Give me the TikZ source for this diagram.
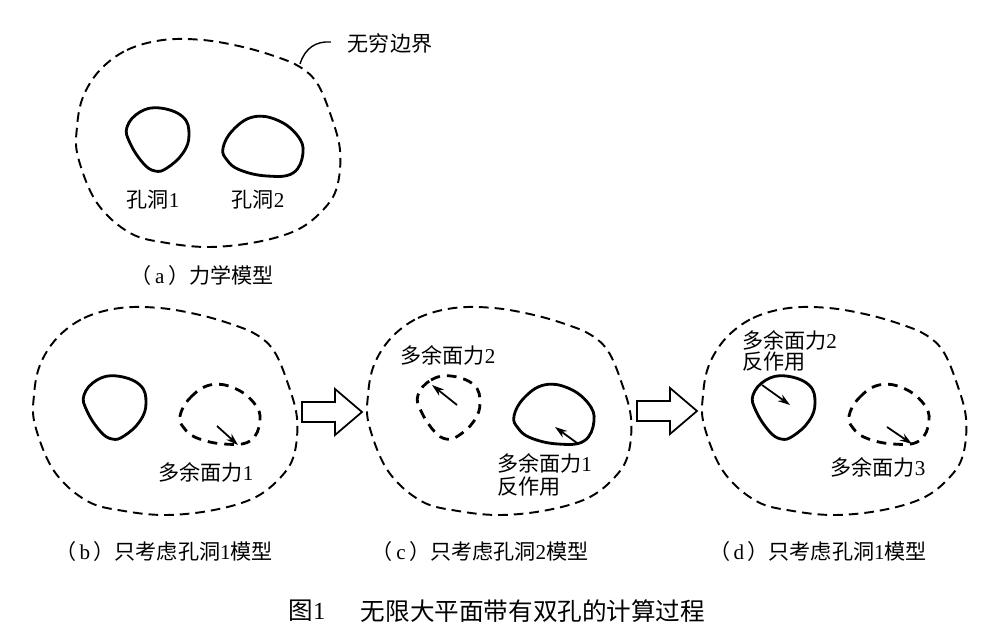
\documentclass[tikz,border=0pt]{standalone}
\usepackage{fontspec}
\setmainfont{Liberation Serif}
\newfontfamily\cjk{Noto Sans CJK SC}
\usetikzlibrary{arrows.meta}

\tikzset{
  bdline/.style={line width=1.1pt, dash pattern=on 5.5pt off 3.4pt},
  solidhole/.style={line width=1.6pt},
  dashhole/.style={line width=1.6pt, dash pattern=on 5.5pt off 4pt},
  force/.style={line width=1pt, -{Stealth[length=7pt,width=4.5pt]}},
  txt/.style={font=\fontsize{12}{14}\selectfont, inner sep=1pt},
  title/.style={font=\fontsize{14}{16}\selectfont, inner sep=1pt},
  outer/.pic={
    \draw[bdline] plot[smooth cycle, tension=0.6] coordinates {(100,70) (127,50) (163,40) (203,40) (243,47) (277,57) (300,67) (317,83) (330,113) (340,150) (337,187) (323,210) (297,230) (257,242) (210,247) (167,243) (130,233) (97,203) (78,157) (77,127) (83,97)};
  },
  holeA/.pic={
    \draw plot[smooth cycle, tension=0.7] coordinates {(127,127) (140,112) (160,108) (183,117) (189,135) (183,153) (167,168) (155,171) (143,163) (130,143)};
  },
  holeB/.pic={
    \draw plot[smooth cycle, tension=0.7] coordinates {(223,148) (233,130) (253,117) (277,120) (297,135) (303,153) (293,173) (267,176) (240,170) (227,160)};
  },
  blockarrow/.pic={
    \draw[line width=1pt, fill=white] (-60,-10) -- (-27,-10) -- (-27,-23) -- (0,0) -- (-27,23) -- (-27,10) -- (-60,10) -- cycle;
  }
}

\begin{document}
\begin{tikzpicture}[x=0.02cm,y=-0.02cm]
  \useasboundingbox (0,0) rectangle (1000,641);

  % (a)
  \pic {outer};
  \pic[solidhole] {holeA};
  \pic[solidhole] {holeB};
  \node[txt] (hole1) at (153,200) {{\cjk 孔洞}1};
  \node[txt] (hole2) at (258,200) {{\cjk 孔洞}2};
  \coordinate (bd) at (300,64);
  \node[txt] (bdname) at (390,43) {\cjk 无穷边界};
  \draw[line width=0.8pt, shorten >=0.3cm] (bd) .. controls (305,48) and (316,41) .. (bdname.west);
  \node[txt] (capa) at (202,275) {{\cjk （}\,a\,{\cjk ）力学模型}};

  % (b)
  \begin{scope}[shift={(-43,268)}]
    \pic {outer};
    \pic[solidhole] {holeA};
    \pic[dashhole] {holeB};
    \coordinate (b1s) at (260,158);
    \coordinate (b1e) at (281,177);
    \draw[force] (b1s) -- (b1e);
    \node[txt] (bforce) at (249,204) {{\cjk 多余面力}1};
    \node[txt] (capb) at (207,283) {{\cjk （}\,b\,{\cjk ）只考虑孔洞}1{\cjk 模型}};
  \end{scope}

  \pic at (362,412) {blockarrow};

  % (c)
  \begin{scope}[shift={(291,268)}]
    \pic {outer};
    \pic[dashhole] {holeA};
    \pic[solidhole] {holeB};
    \coordinate (c2s) at (166,137);
    \coordinate (c2e) at (141,117);
    \draw[force] (c2s) -- (c2e);
    \node[txt] (cforce) at (157,87) {{\cjk 多余面力}2};
    \coordinate (c1s) at (286,175);
    \coordinate (c1e) at (264,159);
    \draw[force] (c1s) -- (c1e);
    \node[txt, anchor=west, align=left] (creact) at (204,207) {{\cjk 多余面力}1\\[-1pt]{\cjk 反作用}};
    \node[txt] (capc) at (189,283) {{\cjk （}\,c\,{\cjk ）只考虑孔洞}2{\cjk 模型}};
  \end{scope}

  \pic at (697,411) {blockarrow};

  % (d)
  \begin{scope}[shift={(626,268)}]
    \pic {outer};
    \pic[solidhole] {holeA};
    \pic[dashhole] {holeB};
    \coordinate (d2s) at (136,117);
    \coordinate (d2e) at (164,137);
    \draw[force] (d2s) -- (d2e);
    \node[txt, anchor=west, align=left] (dreact) at (114,83) {{\cjk 多余面力}2\\[-2pt]{\cjk 反作用}};
    \coordinate (d3s) at (261,159);
    \coordinate (d3e) at (286,176);
    \draw[force] (d3s) -- (d3e);
    \node[txt] (dforce) at (252,199) {{\cjk 多余面力}3};
    \node[txt] (capd) at (192,283) {{\cjk （}\,d\,{\cjk ）只考虑孔洞}1{\cjk 模型}};
  \end{scope}

  \node[title] (fignum) at (307,611) {{\cjk 图}1};
  \node[title] (figtitle) at (533,611) {\cjk 无限大平面带有双孔的计算过程};
\end{tikzpicture}
\end{document}
